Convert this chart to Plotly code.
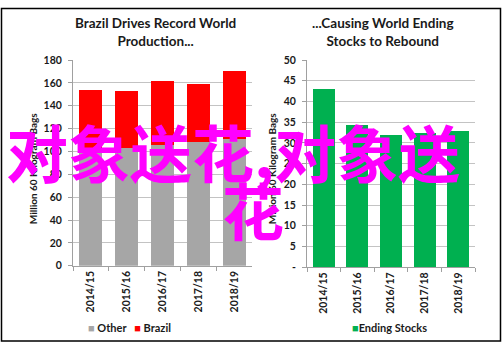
import plotly.graph_objects as go

years = ["2014/15", "2015/16", "2016/17", "2017/18", "2018/19"]
other = [101.0, 103.5, 106.0, 108.5, 111.0]
brazil = [52.5, 49.2, 55.7, 51.0, 59.5]
ending_stocks = [43.0, 34.4, 32.0, 32.3, 32.8]

left_ticks = list(range(0, 181, 20))
right_ticks = list(range(0, 51, 5))
right_ticktext = ["-"] + [str(v) for v in right_ticks[1:]]

title_left = "Brazil Drives Record World<br>Production..."
title_right = "...Causing World Ending<br>Stocks to Rebound"
yaxis_title = "Million 60 Kilogram Bags"
watermark_line1 = "对象送花,对象送"
watermark_line2 = "花"

GRAY = "#A6A6A6"
RED = "#FF0000"
GREEN = "#00B050"
GRID = "#C3C3C3"
FONT = "Lato"
TXT = "#1A1A1A"

fig = go.Figure()
fig.add_trace(go.Bar(x=years, y=other, name="Other", marker=dict(color=GRAY, line=dict(width=0)),
                     xaxis="x", yaxis="y", showlegend=False))
fig.add_trace(go.Bar(x=years, y=brazil, name="Brazil", marker=dict(color=RED, line=dict(width=0)),
                     xaxis="x", yaxis="y", showlegend=False))
fig.add_trace(go.Bar(x=years, y=ending_stocks, name="Ending Stocks",
                     marker=dict(color=GREEN, line=dict(width=0)),
                     xaxis="x2", yaxis="y2", showlegend=False, width=0.655))

tickfont = dict(family=FONT, size=10.5, color=TXT, weight="bold")

xcommon = dict(type="category", showgrid=False, showline=True, linecolor="#A0A0A0", linewidth=1,
               ticks="outside", tickson="boundaries", ticklen=4, tickcolor="#A0A0A0",
               tickangle=-90, tickfont=tickfont)
ycommon = dict(showgrid=True, gridcolor=GRID, gridwidth=1.3, showline=True, linecolor="#A0A0A0",
               linewidth=1, ticks="outside", ticklen=4, tickcolor="#A0A0A0",
               tickfont=tickfont, zeroline=False, ticklabelstandoff=4)

fig.update_layout(
    width=504, height=350, margin=dict(l=0, r=0, t=0, b=0),
    paper_bgcolor="white", plot_bgcolor="white",
    barmode="stack", bargap=0.36,
    showlegend=False,
    xaxis=dict(domain=[73/504, 252/504], anchor="y", **xcommon),
    yaxis=dict(domain=[1-269/350, 1-56/350], anchor="x", range=[0, 180],
               tickvals=left_ticks, **ycommon),
    xaxis2=dict(domain=[307/504, 475/504], anchor="y2", **xcommon),
    yaxis2=dict(domain=[1-270.5/350, 1-56/350], anchor="x2", range=[0, 50],
                tickvals=right_ticks, ticktext=right_ticktext, **ycommon),
)

titlefont = dict(family=FONT, size=13.5, color=TXT, weight="bold")
fig.add_annotation(text=title_left, x=155/504, y=1-27/350, xref="paper", yref="paper",
                   showarrow=False, font=titlefont, xanchor="center", yanchor="middle")
fig.add_annotation(text=title_right, x=383/504, y=1-27/350, xref="paper", yref="paper",
                   showarrow=False, font=titlefont, xanchor="center", yanchor="middle")

ytfont = dict(family=FONT, size=10, color=TXT, weight="bold")
fig.add_annotation(text=yaxis_title, x=33/504, y=1-168/350, xref="paper", yref="paper",
                   showarrow=False, font=ytfont, textangle=-90, xanchor="center", yanchor="middle")
fig.add_annotation(text=yaxis_title, x=272/504, y=1-168/350, xref="paper", yref="paper",
                   showarrow=False, font=ytfont, textangle=-90, xanchor="center", yanchor="middle")

legfont = dict(family=FONT, size=11, color=TXT, weight="bold")
fig.add_annotation(text=f"<span style='color:{GRAY}'>■</span> Other &nbsp; <span style='color:{RED}'>■</span> Brazil",
                   x=129/504, y=1-333/350, xref="paper", yref="paper", showarrow=False,
                   font=legfont, xanchor="center", yanchor="middle")
fig.add_annotation(text=f"<span style='color:{GREEN}'>■</span>Ending Stocks",
                   x=389/504, y=1-333/350, xref="paper", yref="paper", showarrow=False,
                   font=legfont, xanchor="center", yanchor="middle")

# outer border
fig.add_shape(type="rect", xref="paper", yref="paper", x0=1.5/504, x1=500.5/504, y0=1-347/350, y1=1-2.5/350,
              line=dict(color="black", width=1.5), fillcolor="rgba(0,0,0,0)")

wmfont = dict(family="Noto Sans CJK SC", size=62, color="#FF00FF", weight="bold")
fig.add_annotation(text=watermark_line1, x=4/504, y=1-150/350, xref="paper", yref="paper",
                   showarrow=False, font=wmfont, xanchor="left", yanchor="middle")
fig.add_annotation(text=watermark_line2, x=253/504, y=1-210/350, xref="paper", yref="paper",
                   showarrow=False, font=wmfont, xanchor="center", yanchor="middle")

fig.write_html("out.html")
